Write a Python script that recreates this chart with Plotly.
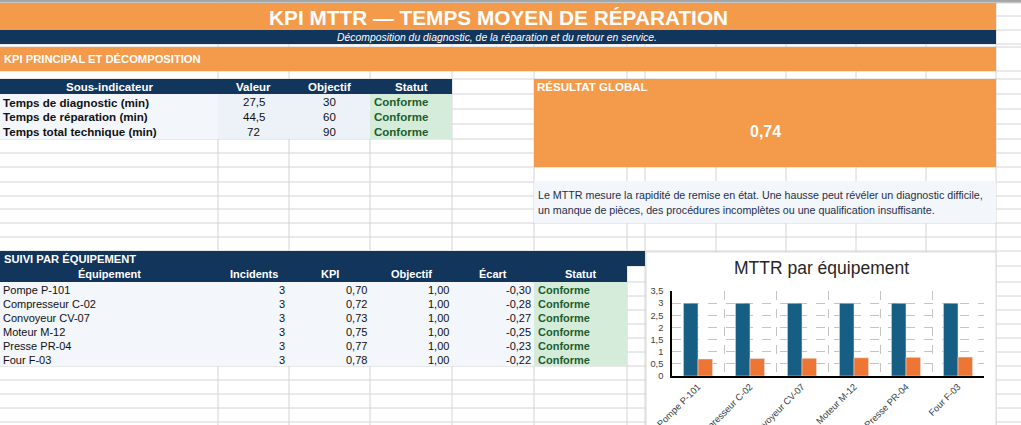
import plotly.graph_objects as go

W, H = 1021, 425

# upper table: sous-indicateurs
sub_labels = ["Temps de diagnostic (min)", "Temps de réparation (min)", "Temps total technique (min)"]
sub_values = [27.5, 44.5, 72]
sub_targets = [30, 60, 90]
sub_status = ["Conforme", "Conforme", "Conforme"]
global_result = 0.74

# lower table: suivi par equipement
equipments = ["Pompe P-101", "Compresseur C-02", "Convoyeur CV-07", "Moteur M-12", "Presse PR-04", "Four F-03"]
incidents = [3, 3, 3, 3, 3, 3]
kpi = [0.70, 0.72, 0.73, 0.75, 0.77, 0.78]
objectif = [1.00, 1.00, 1.00, 1.00, 1.00, 1.00]
ecart = [-0.30, -0.28, -0.27, -0.25, -0.23, -0.22]
statut = ["Conforme", "Conforme", "Conforme", "Conforme", "Conforme", "Conforme"]

ORANGE = "#F39B4B"
NAVY = "#12355B"
LIGHT = "#F3F6FB"
LIGHT2 = "#EDF2F9"
GREEN_BG = "#D5ECDB"
GREEN_TX = "#1B5E2D"
GRID = "#D4D4D4"
FONT = "Liberation Sans, Arial, sans-serif"

# sheet grid
cols = [218, 289, 370, 452, 534, 627, 645, 716, 786, 856, 926, 996]
rows = [3, 16, 30, 44, 47, 71, 79, 94, 109, 124, 139, 153, 167, 182, 196, 209, 223,
        237, 251, 266, 282, 296, 310, 324, 338, 352, 366, 380, 394, 408, 422]


def px(x):
    return x / W


def py(y):
    return 1 - y / H


shapes = []
annotations = []


def rect(x0, y0, x1, y1, color, line=None):
    shapes.append(dict(type="rect", xref="paper", yref="paper", layer="below",
                       x0=px(x0), x1=px(x1), y0=py(y1), y1=py(y0),
                       fillcolor=color,
                       line=dict(width=1 if line else 0, color=line or color)))


def hline(x0, x1, y, color=GRID, width=1):
    shapes.append(dict(type="line", xref="paper", yref="paper", layer="below",
                       x0=px(x0), x1=px(x1), y0=py(y), y1=py(y),
                       line=dict(color=color, width=width)))


def vline(x, y0, y1, color=GRID, width=1):
    shapes.append(dict(type="line", xref="paper", yref="paper", layer="below",
                       x0=px(x), x1=px(x), y0=py(y0), y1=py(y1),
                       line=dict(color=color, width=width)))


def text(x, y, s, size=11, color="black", anchor="left", bold=False, italic=False):
    if bold:
        s = "<b>" + s + "</b>"
    if italic:
        s = "<i>" + s + "</i>"
    annotations.append(dict(xref="paper", yref="paper", x=px(x), y=py(y), text=s,
                            showarrow=False, xanchor=anchor, yanchor="middle",
                            borderpad=0,
                            font=dict(family=FONT, size=size, color=color)))


def fr(v, d=None):
    if d is None:
        return ("%g" % v).replace(".", ",")
    return ("%.*f" % (d, v)).replace(".", ",")


for c in cols:
    vline(c, 0, H)
for r in rows:
    hline(0, W, r)
hline(0, W, 1.2, "#A6A6A6", 2.5)

# header bands
rect(0, 3, 996, 30, ORANGE)
text(498, 17, "KPI MTTR — TEMPS MOYEN DE RÉPARATION", 20.8, "white", "center", bold=True)
rect(0, 30, 996, 44, NAVY)
text(497, 37.5, "Décomposition du diagnostic, de la réparation et du retour en service.",
     10.4, "white", "center", italic=True)
rect(0, 47, 996, 71, ORANGE)
text(3, 59, "KPI PRINCIPAL ET DÉCOMPOSITION", 11.2, "white", bold=True)

# upper table
rect(0, 79, 452, 94, NAVY)
for label, x0, x1 in [("Sous-indicateur", 0, 218), ("Valeur", 218, 289),
                      ("Objectif", 289, 370), ("Statut", 370, 452)]:
    text((x0 + x1) / 2, 87, label, 11.5, "white", "center", bold=True)
for i in range(len(sub_labels)):
    y0 = 94 + 15 * i
    yc = y0 + 8
    rect(0, y0, 218, y0 + 15, LIGHT)
    rect(218, y0, 370, y0 + 15, LIGHT2)
    rect(370, y0, 452, y0 + 15, GREEN_BG)
    text(2, yc, sub_labels[i], 11.6, "#111111", bold=True)
    text(253.5, yc, fr(sub_values[i]), 11.5, "#111111", "center")
    text(329.5, yc, fr(sub_targets[i]), 11.5, "#111111", "center")
    text(373, yc, sub_status[i], 11.5, GREEN_TX, bold=True)

# global result block
rect(534, 79, 996, 167, ORANGE)
text(536, 87, "RÉSULTAT GLOBAL", 11.5, "white", bold=True)
text(765, 131, fr(global_result, 2), 16, "white", "center", bold=True)
rect(534, 181, 996, 223, LIGHT)
text(537, 195, "Le MTTR mesure la rapidité de remise en état. Une hausse peut révéler un diagnostic difficile,",
     10.7, "#1F2F4A")
text(537, 210, "un manque de pièces, des procédures incomplètes ou une qualification insuffisante.",
     10.7, "#1F2F4A")

# lower table
rect(0, 251, 645, 266, NAVY)
text(3, 258.5, "SUIVI PAR ÉQUIPEMENT", 11.2, "white", bold=True)
rect(0, 266, 627, 282, NAVY)
for label, x0, x1 in [("Équipement", 0, 218), ("Incidents", 218, 289), ("KPI", 289, 370),
                      ("Objectif", 370, 452), ("Écart", 452, 534), ("Statut", 534, 627)]:
    text((x0 + x1) / 2, 274, label, 11, "white", "center", bold=True)
for i in range(len(equipments)):
    y0 = 282 + 14 * i
    yc = y0 + 7.5
    rect(0, y0, 534, y0 + 14, LIGHT)
    rect(534, y0, 627, y0 + 14, GREEN_BG)
    text(2, yc, equipments[i], 11, "#111111")
    text(286, yc, str(incidents[i]), 11, "#111111", "right")
    text(368, yc, fr(kpi[i], 2), 11, "#111111", "right")
    text(450, yc, fr(objectif[i], 2), 11, "#111111", "right")
    text(532, yc, fr(ecart[i], 2), 11, "#111111", "right")
    text(537, yc, statut[i], 11, GREEN_TX, bold=True)

# chart box
rect(646, 252, 996, 440, "white", "#D9D9D9")
text(821, 268, "MTTR par équipement", 17.5, "#262626", "center")

fig = go.Figure()
fig.add_trace(go.Bar(x=equipments, y=incidents, name="Incidents", marker_color="#165E83"))
fig.add_trace(go.Bar(x=equipments, y=kpi, name="KPI", marker_color="#ED7634"))

fig.update_layout(
    width=W, height=H,
    margin=dict(l=0, r=0, t=0, b=0),
    paper_bgcolor="white",
    plot_bgcolor="rgba(0,0,0,0)",
    separators=", ",
    showlegend=False,
    barmode="group",
    bargap=0.44,
    bargroupgap=0,
    shapes=shapes,
    annotations=annotations,
    font=dict(family=FONT),
)
fig.update_xaxes(
    domain=[px(672), px(984)],
    tickson="boundaries",
    showgrid=True, gridcolor="#C4C4C4", griddash="dash", gridwidth=1,
    showline=True, linecolor="black", linewidth=1.5,
    ticks="", tickangle=-45,
    tickfont=dict(size=9.3, color="#404040"),
    automargin=False, fixedrange=True,
)
fig.update_yaxes(
    domain=[py(376), py(291)],
    range=[0, 3.5], dtick=0.5,
    showgrid=True, gridcolor="#C4C4C4", griddash="dash", gridwidth=1,
    showline=True, linecolor="black", linewidth=1.5,
    zeroline=False,
    ticks="", ticklabelstandoff=5,
    tickfont=dict(size=9.3, color="#404040"),
    automargin=False, fixedrange=True,
)

fig.write_html("out.html", config={"displayModeBar": False},
               post_script="document.body.style.margin='0px';document.body.style.overflow='hidden';")
